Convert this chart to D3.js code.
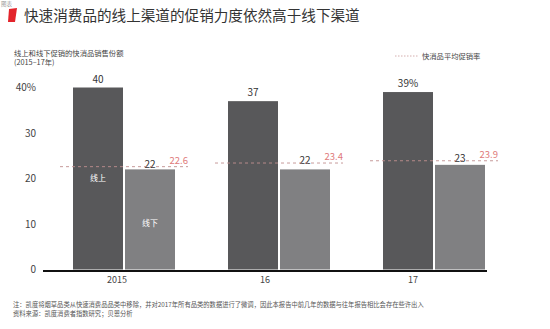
<!DOCTYPE html>
<html><head><meta charset="utf-8">
<script src="https://cdn.jsdelivr.net/npm/d3@7"></script>
<style>
html,body{margin:0;padding:0;background:#fff;}
svg{display:block;font-family:"Noto Sans CJK SC","Noto Sans",sans-serif;}
</style></head>
<body>
<svg id="chart" width="550" height="329"></svg>
<script>
const years = ["2015", "16", "17"];
const onlineShare = [40, 37, 39];
const offlineShare = [22, 22, 23];
const avgPromoRate = [22.6, 23.4, 23.9];
const onlineLabels = ["40", "37", "39%"];
const yTicks = [0, 10, 20, 30, 40];
const yTickLabels = ["0", "10", "20", "30", "40%"];

const svg = d3.select("#chart");

// title block
svg.append("path").attr("d", "M9,9 L17,8 L15,22 L8,22 Z").attr("fill", "#e3242b");
svg.append("text").attr("x", 1).attr("y", 6).attr("font-size", 5.5).attr("fill", "#999").text("图表");
svg.append("text").attr("x", 24).attr("y", 20.5).attr("font-size", 14.6).attr("fill", "#333")
  .text("快速消费品的线上渠道的促销力度依然高于线下渠道");

svg.append("text").attr("x", 14).attr("y", 55.5).attr("font-size", 7.3).attr("fill", "#444")
  .text("线上和线下促销的快消品销售份额");
svg.append("text").attr("x", 14).attr("y", 65).attr("font-size", 7.3).attr("fill", "#444")
  .text("(2015–17年)");

// legend
svg.append("line").attr("x1", 395).attr("x2", 418).attr("y1", 56).attr("y2", 56)
  .attr("stroke", "#c99a9a").attr("stroke-width", 0.8).attr("stroke-dasharray", "1.5,1.5");
svg.append("text").attr("x", 422).attr("y", 58.5).attr("font-size", 7.3).attr("fill", "#444")
  .text("快消品平均促销率");

// scales
const y = d3.scaleLinear().domain([0, 40]).range([269.5, 87.5]);
const xAxisBand = d3.scaleBand().domain(years).range([43, 487]);
const xGroup = d3.scalePoint().domain(years).range([124, 434]);
const barW = 50;

// y tick labels
svg.append("g").selectAll("text").data(yTicks).join("text")
  .attr("x", 36).attr("y", d => y(d) + 3.5).attr("text-anchor", "end")
  .attr("font-size", 10).attr("fill", "#444")
  .text((d, i) => yTickLabels[i]);

// bars
const g = svg.append("g");
g.selectAll("rect.on").data(years).join("rect").attr("class", "on")
  .attr("x", d => xGroup(d) - barW - 1).attr("width", barW)
  .attr("y", (d, i) => y(onlineShare[i])).attr("height", (d, i) => y(0) - y(onlineShare[i]))
  .attr("fill", "#58585a");
g.selectAll("rect.off").data(years).join("rect").attr("class", "off")
  .attr("x", d => xGroup(d) + 1).attr("width", barW)
  .attr("y", (d, i) => y(offlineShare[i])).attr("height", (d, i) => y(0) - y(offlineShare[i]))
  .attr("fill", "#808082");

// value labels
g.selectAll("text.onv").data(years).join("text").attr("class", "onv")
  .attr("x", d => xGroup(d) - barW / 2 - 1).attr("y", (d, i) => y(onlineShare[i]) - 5)
  .attr("text-anchor", "middle").attr("font-size", 10).attr("fill", "#333")
  .text((d, i) => onlineLabels[i]);
g.selectAll("text.offv").data(years).join("text").attr("class", "offv")
  .attr("x", d => xGroup(d) + barW / 2 + 1).attr("y", (d, i) => y(avgPromoRate[i]) + 1)
  .attr("text-anchor", "middle").attr("font-size", 10).attr("fill", "#333")
  .text((d, i) => offlineShare[i]);

// average promo rate dashed lines
g.selectAll("line.avg").data(years).join("line").attr("class", "avg")
  .attr("x1", d => xGroup(d) - 64).attr("x2", d => xGroup(d) + 64)
  .attr("y1", (d, i) => y(avgPromoRate[i])).attr("y2", (d, i) => y(avgPromoRate[i]))
  .attr("stroke", "#c08e8e").attr("stroke-width", 0.9).attr("stroke-dasharray", "3,3");
g.selectAll("text.avgv").data(years).join("text").attr("class", "avgv")
  .attr("x", d => xGroup(d) + 64).attr("y", (d, i) => y(avgPromoRate[i]) - 3)
  .attr("text-anchor", "end").attr("font-size", 9.5).attr("fill", "#e07a7a")
  .text((d, i) => avgPromoRate[i].toFixed(1));

// inside bar labels (first group)
g.append("text").attr("x", xGroup(years[0]) - barW / 2 - 1).attr("y", y(20) + 2)
  .attr("text-anchor", "middle").attr("font-size", 8).attr("fill", "#fff").text("线上");
g.append("text").attr("x", xGroup(years[0]) + barW / 2 + 1).attr("y", y(10) + 2)
  .attr("text-anchor", "middle").attr("font-size", 8).attr("fill", "#fff").text("线下");

// x axis
svg.append("line").attr("x1", 43).attr("x2", 487).attr("y1", 271).attr("y2", 271)
  .attr("stroke", "#111").attr("stroke-width", 2);
svg.append("g").selectAll("text").data(years).join("text")
  .attr("x", d => xAxisBand(d) + xAxisBand.bandwidth() / 2).attr("y", 283)
  .attr("text-anchor", "middle").attr("font-size", 9).attr("fill", "#444").text(d => d);

// footnotes
svg.append("text").attr("x", 13).attr("y", 307).attr("font-size", 6.3).attr("fill", "#555")
  .text("注：凯度将烟草品类从快速消费品品类中移除，并对2017年所有品类的数据进行了微调，因此本报告中前几年的数据与往年报告相比会存在些许出入");
svg.append("text").attr("x", 13).attr("y", 316).attr("font-size", 6.3).attr("fill", "#555")
  .text("资料来源：凯度消费者指数研究；贝恩分析");
</script>
</body></html>
